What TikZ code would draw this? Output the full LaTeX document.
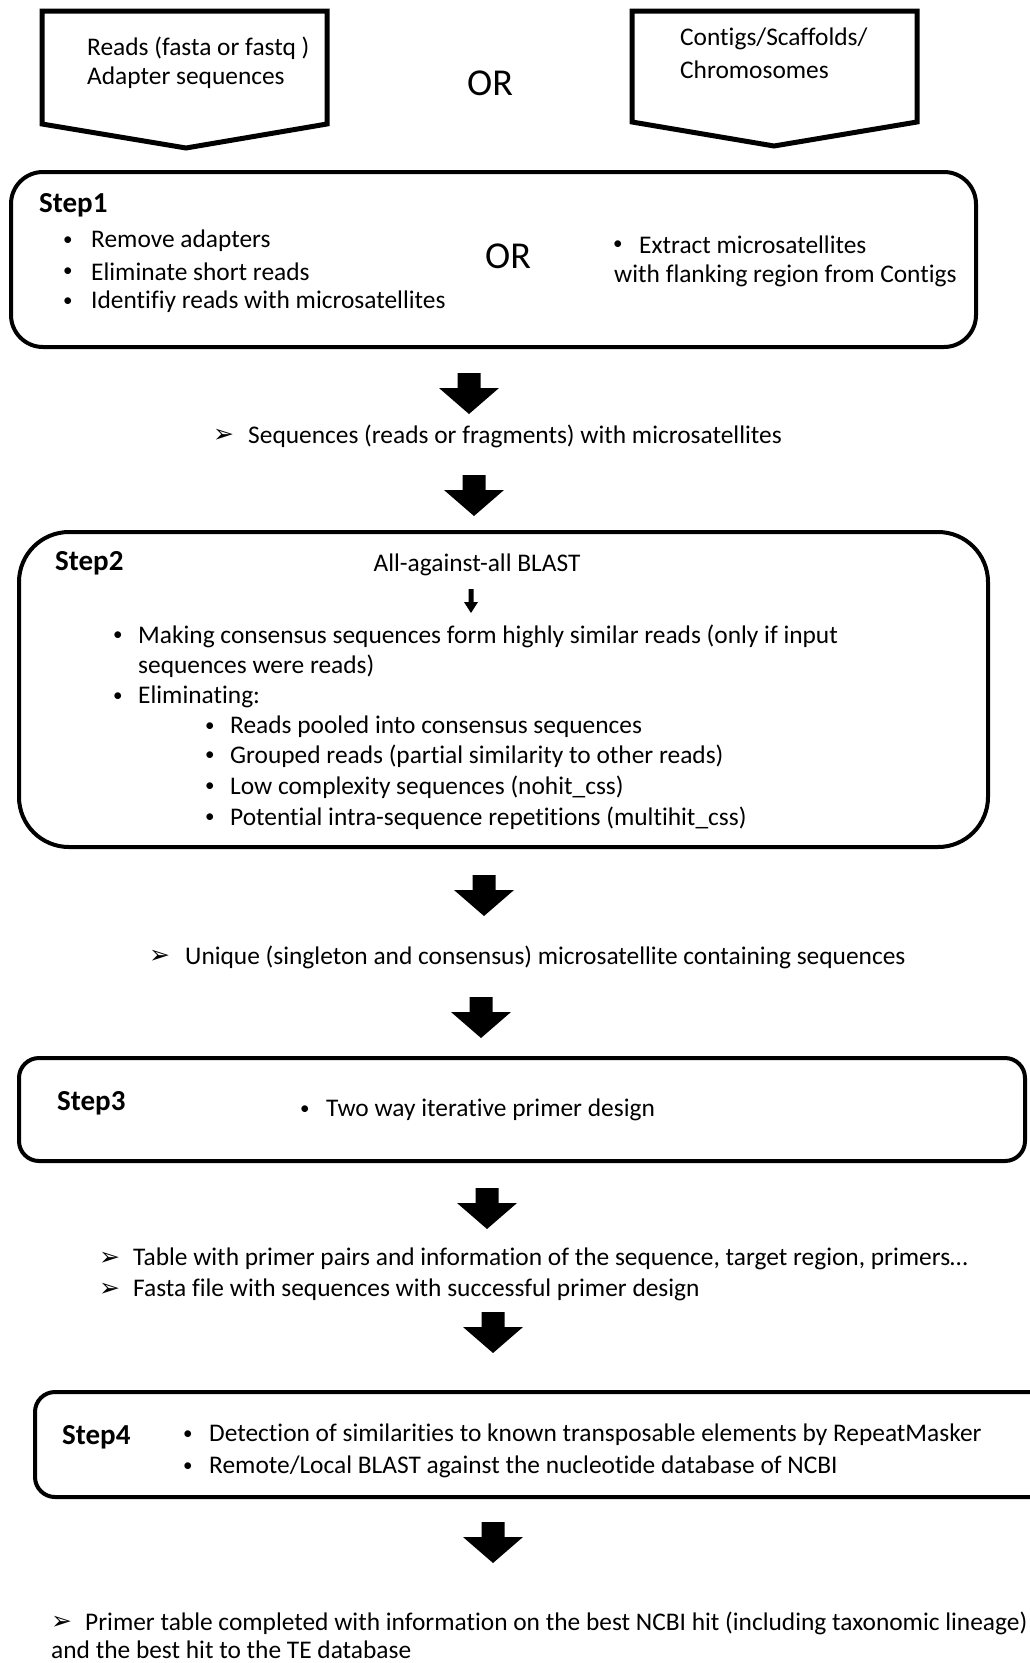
\documentclass[tikz,border=0pt]{standalone}
\usepackage{fontspec}
\setmainfont{Carlito}[Ligatures=CommonOff]
\newfontfamily\djv{DejaVu Sans}
\begin{document}
\begin{tikzpicture}[x=1pt,y=-1pt,
  txt/.style={anchor=west,inner sep=0pt,font=\fontsize{25.4}{30}\selectfont},
  ctxt/.style={inner sep=0pt,font=\fontsize{25.4}{30}\selectfont},
  ortxt/.style={inner sep=0pt,font=\fontsize{38}{44}\selectfont},
  steptitle/.style={anchor=west,inner sep=0pt,font=\bfseries\fontsize{29}{34}\selectfont},
  bul/.style={anchor=west,inner sep=0pt,font=\fontsize{19}{22}\selectfont},
  tri/.style={anchor=west,inner sep=0pt,font=\djv\fontsize{25}{28}\selectfont},
  inbox/.style={draw=black,line width=5pt,line join=miter},
  stepbox/.style={draw=black,line width=4pt},
  blockarrow/.pic={\fill (-11.5,0) -- (11.5,0) -- (11.5,15) -- (30,15) -- (0,41) -- (-30,15) -- (-11.5,15) -- cycle;},
  smallarrow/.pic={\fill (-2.5,0) -- (2.5,0) -- (2.5,13) -- (7,13) -- (0,24) -- (-7,13) -- (-2.5,13) -- cycle;}
]
\useasboundingbox (0,0) rectangle (1030,1663);
% inputs
\draw[inbox] (42,11) -- (327,11) -- (327,124) -- (186,148) -- (42,124) -- cycle;
\draw[inbox] (632,11) -- (917,11) -- (917,122) -- (774,146) -- (632,122) -- cycle;
\node[txt] (r1) at (87,48) {Reads (fasta or fastq )};
\node[txt] (r2) at (87,78) {Adapter sequences};
\node[ortxt] (or1) at (490,83) {OR};
\node[txt] (c1) at (680,39) {Contigs/Scaffolds/};
\node[txt] (c2) at (680,70) {Chromosomes};
% step1
\draw[stepbox,rounded corners=32pt] (11,172) rectangle (976,347);
\node[steptitle] (s1) at (39,205) {Step1};
\node[bul] (b11) at (63,241) {•};
\node[txt] (t11) at (91,241) {Remove adapters};
\node[bul] (b12) at (63,272) {•};
\node[txt] (t12) at (91,272) {Eliminate short reads};
\node[bul] (b13) at (63,302) {•};
\node[txt] (t13) at (91,302) {Identifiy reads with microsatellites};
\node[ortxt] (or2) at (508,256) {OR};
\node[bul] (b14) at (613,245) {•};
\node[txt] (t14) at (639,245) {Extract microsatellites};
\node[txt] (t15) at (614,276) {with flanking region from Contigs};
\pic at (469,373) {blockarrow};
\node[tri] (a1) at (213,436) {➢};
\node[txt] (o1) at (248,436) {Sequences (reads or fragments) with microsatellites};
\pic at (474,475) {blockarrow};
% step2
\draw[stepbox,rounded corners=50pt] (19,532) rectangle (988,847);
\node[steptitle] (s2) at (55,563) {Step2};
\node[ctxt] (blast) at (477,565) {All-against-all BLAST};
\pic at (471,589) {smallarrow};
\node[bul] (b21) at (113,636) {•};
\node[txt] (t21) at (138,636) {Making consensus sequences form highly similar reads (only if input};
\node[txt] (t21b) at (138,666) {sequences were reads)};
\node[bul] (b22) at (113,697) {•};
\node[txt] (t22) at (138,697) {Eliminating:};
\node[bul] (b23) at (205,727) {•};
\node[txt] (t23) at (230,727) {Reads pooled into consensus sequences};
\node[bul] (b24) at (205,756) {•};
\node[txt] (t24) at (230,756) {Grouped reads (partial similarity to other reads)};
\node[bul] (b25) at (205,787) {•};
\node[txt] (t25) at (230,787) {Low complexity sequences (nohit\_css)};
\node[bul] (b26) at (205,818) {•};
\node[txt] (t26) at (230,818) {Potential intra-sequence repetitions (multihit\_css)};
\pic at (484,875) {blockarrow};
\node[tri] (a2) at (149,957) {➢};
\node[txt] (o2) at (185,957) {Unique (singleton and consensus) microsatellite containing sequences};
\pic at (481,997) {blockarrow};
% step3
\draw[stepbox,rounded corners=20pt] (19,1058) rectangle (1025,1161);
\node[steptitle] (s3) at (57,1103) {Step3};
\node[bul] (b31) at (300,1110) {•};
\node[txt] (t31) at (326,1110) {Two way iterative primer design};
\pic at (487,1188) {blockarrow};
\node[tri] (a3) at (99,1259) {➢};
\node[txt] (o3) at (133,1259) {Table with primer pairs and information of the sequence, target region, primers…};
\node[tri] (a4) at (99,1290) {➢};
\node[txt] (o4) at (133,1290) {Fasta file with sequences with successful primer design};
\pic at (493,1312) {blockarrow};
% step4
\draw[stepbox,rounded corners=20pt] (35,1392) rectangle (1050,1497);
\node[steptitle] (s4) at (62,1437) {Step4};
\node[bul] (b41) at (183,1435) {•};
\node[txt] (t41) at (209,1435) {Detection of similarities to known transposable elements by RepeatMasker};
\node[bul] (b42) at (183,1467) {•};
\node[txt] (t42) at (209,1467) {Remote/Local BLAST against the nucleotide database of NCBI};
\pic at (493,1522) {blockarrow};
\node[tri] (a5) at (51,1623) {➢};
\node[txt] (o5) at (85,1623) {Primer table completed with information on the best NCBI hit (including taxonomic lineage)};
\node[txt] (o6) at (51,1650) {and the best hit to the TE database};
\end{tikzpicture}
\end{document}
